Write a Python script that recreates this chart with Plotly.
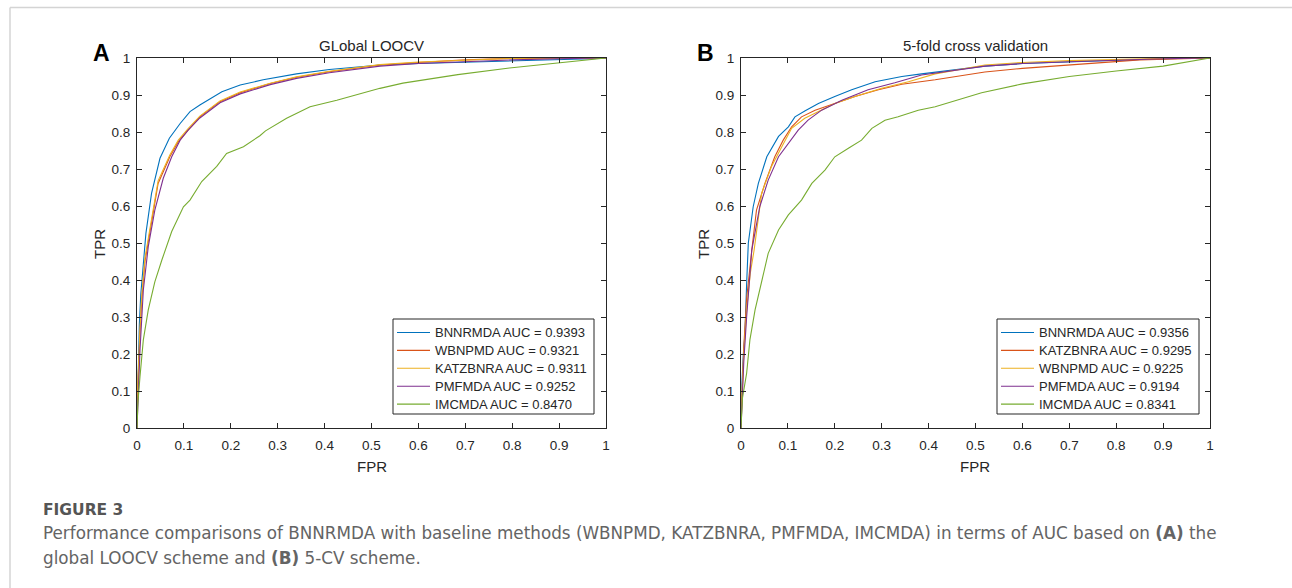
import plotly.graph_objects as go

W, H = 1292, 588

# ---------------- Data ----------------
# Panel A: Global LOOCV
A_BNNRMDA_FPR = [0, 0.002, 0.005, 0.008, 0.012, 0.019, 0.031, 0.049, 0.069, 0.092, 0.113, 0.134, 0.181, 0.22, 0.269, 0.34, 0.41, 0.518, 0.6, 0.758, 0.904, 0.97, 1]
A_BNNRMDA_TPR = [0, 0.15, 0.28, 0.36, 0.43, 0.526, 0.634, 0.729, 0.783, 0.823, 0.855, 0.873, 0.909, 0.927, 0.941, 0.957, 0.969, 0.981, 0.985, 0.990, 0.994, 0.998, 1]

A_WBNPMD_FPR = [0, 0.002, 0.0064, 0.01, 0.017, 0.021, 0.045, 0.07, 0.088, 0.109, 0.134, 0.177, 0.22, 0.284, 0.34, 0.41, 0.518, 0.6, 0.7, 0.8, 0.87, 1]
A_WBNPMD_TPR = [0, 0.12, 0.256, 0.346, 0.45, 0.481, 0.661, 0.733, 0.774, 0.805, 0.841, 0.882, 0.906, 0.931, 0.948, 0.963, 0.981, 0.988, 0.995, 0.999, 1, 1]

A_KATZBNRA_FPR = [0, 0.002, 0.0064, 0.01, 0.017, 0.021, 0.045, 0.07, 0.088, 0.109, 0.134, 0.177, 0.22, 0.284, 0.34, 0.41, 0.518, 0.6, 0.7, 0.8, 0.87, 1]
A_KATZBNRA_TPR = [0, 0.13, 0.265, 0.355, 0.46, 0.49, 0.668, 0.738, 0.778, 0.809, 0.843, 0.884, 0.908, 0.932, 0.949, 0.964, 0.982, 0.989, 0.995, 0.999, 1, 1]

A_PMFMDA_FPR = [0, 0.002, 0.0064, 0.0135, 0.021, 0.024, 0.038, 0.056, 0.074, 0.092, 0.109, 0.134, 0.177, 0.22, 0.284, 0.34, 0.41, 0.518, 0.6, 0.7, 0.8, 0.9, 0.97, 1]
A_PMFMDA_TPR = [0, 0.08, 0.21, 0.373, 0.47, 0.49, 0.589, 0.675, 0.733, 0.778, 0.805, 0.838, 0.879, 0.903, 0.928, 0.945, 0.96, 0.978, 0.985, 0.991, 0.995, 0.998, 1, 1]

A_IMCMDA_FPR = [0, 0.002, 0.0064, 0.0135, 0.024, 0.038, 0.053, 0.074, 0.099, 0.113, 0.138, 0.17, 0.191, 0.227, 0.262, 0.274, 0.319, 0.369, 0.426, 0.483, 0.518, 0.567, 0.611, 0.684, 0.794, 0.904, 1]
A_IMCMDA_TPR = [0, 0.07, 0.139, 0.238, 0.319, 0.395, 0.454, 0.531, 0.598, 0.616, 0.666, 0.707, 0.742, 0.76, 0.79, 0.803, 0.837, 0.868, 0.886, 0.906, 0.918, 0.932, 0.941, 0.955, 0.973, 0.988, 1]

# Panel B: 5-fold cross validation
B_BNNRMDA_FPR = [0, 0.002, 0.005, 0.0085, 0.012, 0.0156, 0.026, 0.037, 0.055, 0.08, 0.101, 0.115, 0.136, 0.165, 0.2, 0.236, 0.286, 0.343, 0.385, 0.52, 0.6, 0.7, 0.8, 0.9, 1]
B_BNNRMDA_TPR = [0, 0.12, 0.2, 0.256, 0.39, 0.5, 0.598, 0.661, 0.733, 0.788, 0.814, 0.841, 0.857, 0.877, 0.896, 0.914, 0.936, 0.95, 0.957, 0.978, 0.985, 0.99, 0.995, 0.998, 1]

B_KATZBNRA_FPR = [0, 0.002, 0.006, 0.012, 0.018, 0.023, 0.033, 0.051, 0.072, 0.09, 0.108, 0.129, 0.158, 0.2, 0.243, 0.293, 0.343, 0.414, 0.52, 0.6, 0.7, 0.8, 0.85, 1]
B_KATZBNRA_TPR = [0, 0.1, 0.22, 0.35, 0.43, 0.481, 0.589, 0.661, 0.733, 0.778, 0.814, 0.841, 0.859, 0.877, 0.896, 0.914, 0.929, 0.941, 0.962, 0.972, 0.982, 0.99, 0.995, 1]

B_WBNPMD_FPR = [0, 0.002, 0.006, 0.012, 0.02, 0.028, 0.044, 0.065, 0.087, 0.108, 0.136, 0.165, 0.2, 0.243, 0.3, 0.357, 0.414, 0.52, 0.6, 0.7, 0.8, 0.9, 1]
B_WBNPMD_TPR = [0, 0.1, 0.2, 0.32, 0.42, 0.481, 0.634, 0.707, 0.76, 0.81, 0.837, 0.855, 0.877, 0.896, 0.918, 0.936, 0.957, 0.981, 0.988, 0.993, 0.997, 0.999, 1]

B_PMFMDA_FPR = [0, 0.002, 0.006, 0.012, 0.018, 0.023, 0.04, 0.058, 0.08, 0.101, 0.122, 0.143, 0.172, 0.215, 0.271, 0.328, 0.385, 0.52, 0.6, 0.7, 0.8, 0.9, 1]
B_PMFMDA_TPR = [0, 0.08, 0.18, 0.3, 0.41, 0.481, 0.598, 0.67, 0.733, 0.769, 0.805, 0.832, 0.859, 0.886, 0.914, 0.933, 0.954, 0.978, 0.985, 0.99, 0.995, 0.998, 1]

B_IMCMDA_FPR = [0, 0.003, 0.012, 0.019, 0.03, 0.044, 0.058, 0.08, 0.101, 0.129, 0.151, 0.179, 0.2, 0.229, 0.257, 0.279, 0.307, 0.335, 0.378, 0.414, 0.471, 0.513, 0.6, 0.7, 0.8, 0.9, 1]
B_IMCMDA_TPR = [0, 0.08, 0.148, 0.238, 0.319, 0.4, 0.472, 0.535, 0.576, 0.616, 0.661, 0.697, 0.733, 0.756, 0.778, 0.81, 0.832, 0.841, 0.859, 0.868, 0.891, 0.906, 0.93, 0.95, 0.965, 0.978, 1]

A_LABELS = ["BNNRMDA AUC = 0.9393", "WBNPMD AUC = 0.9321", "KATZBNRA AUC = 0.9311",
            "PMFMDA AUC = 0.9252", "IMCMDA AUC = 0.8470"]
B_LABELS = ["BNNRMDA AUC = 0.9356", "KATZBNRA AUC = 0.9295", "WBNPMD AUC = 0.9225",
            "PMFMDA AUC = 0.9194", "IMCMDA AUC = 0.8341"]

TICK_VALS = [0, 0.1, 0.2, 0.3, 0.4, 0.5, 0.6, 0.7, 0.8, 0.9, 1]
TICK_TEXT = ["0", "0.1", "0.2", "0.3", "0.4", "0.5", "0.6", "0.7", "0.8", "0.9", "1"]

COLORS = ["#0072BD", "#D95319", "#EDB120", "#7E2F8E", "#77AC30"]

TITLES = ["GLobal LOOCV", "5-fold cross validation"]
PANEL_LETTERS = ["A", "B"]
CAPTION_HEAD = "FIGURE 3"
CAPTION_LINES = [
    "Performance comparisons of BNNRMDA with baseline methods (WBNPMD, KATZBNRA, PMFMDA, IMCMDA) in terms of AUC based on <b>(A)</b> the",
    "global LOOCV scheme and <b>(B)</b> 5-CV scheme.",
]

# ---------------- Figure ----------------
def px(x):
    return x / W


def py(y):
    return 1 - y / H


fig = go.Figure()

a_series = [(A_BNNRMDA_FPR, A_BNNRMDA_TPR), (A_WBNPMD_FPR, A_WBNPMD_TPR),
            (A_KATZBNRA_FPR, A_KATZBNRA_TPR), (A_PMFMDA_FPR, A_PMFMDA_TPR),
            (A_IMCMDA_FPR, A_IMCMDA_TPR)]
b_series = [(B_BNNRMDA_FPR, B_BNNRMDA_TPR), (B_KATZBNRA_FPR, B_KATZBNRA_TPR),
            (B_WBNPMD_FPR, B_WBNPMD_TPR), (B_PMFMDA_FPR, B_PMFMDA_TPR),
            (B_IMCMDA_FPR, B_IMCMDA_TPR)]

for (xs, ys), name, col in zip(a_series, A_LABELS, COLORS):
    fig.add_trace(go.Scatter(x=xs, y=ys, mode="lines", name=name, showlegend=False,
                             line=dict(color=col, width=1.1), xaxis="x", yaxis="y"))
for (xs, ys), name, col in zip(b_series, B_LABELS, COLORS):
    fig.add_trace(go.Scatter(x=xs, y=ys, mode="lines", name=name, showlegend=False,
                             line=dict(color=col, width=1.1), xaxis="x2", yaxis="y2"))

INK = "#262626"
FONT = "Liberation Sans"
tickfont = dict(family=FONT, size=13.5, color=INK)
axis_common = dict(range=[0, 1], tickvals=TICK_VALS, ticktext=TICK_TEXT,
                   ticks="inside", ticklen=5, tickwidth=1, tickcolor=INK,
                   showline=True, linecolor=INK, linewidth=1, mirror="ticks",
                   showgrid=False, zeroline=False, tickfont=tickfont, fixedrange=True,
                   automargin=False)

fig.update_layout(
    template="none",
    width=W, height=H, autosize=False,
    margin=dict(l=0, r=0, t=0, b=0, pad=0, autoexpand=False),
    paper_bgcolor="white", plot_bgcolor="white",
    xaxis=dict(domain=[px(137), px(606)], anchor="y", ticklabelstandoff=5, **axis_common),
    yaxis=dict(domain=[py(428), py(58)], anchor="x", ticklabelstandoff=3, **axis_common),
    xaxis2=dict(domain=[px(741), px(1210)], anchor="y2", ticklabelstandoff=5, **axis_common),
    yaxis2=dict(domain=[py(428), py(58)], anchor="x2", ticklabelstandoff=3, **axis_common),
    showlegend=False,
)

ann = []
shapes = []


def text(x, y, t, font, xanchor="center", yanchor="middle", angle=0):
    ann.append(dict(x=px(x), y=py(y), xref="paper", yref="paper", text=t,
                    showarrow=False, xanchor=xanchor, yanchor=yanchor,
                    textangle=angle, font=font))


txt_font = dict(family=FONT, size=15, color=INK)
lab_font = dict(family=FONT, size=15, color=INK)
centers = [371.5, 975.5]
lefts = [137, 741]
for i in range(2):
    text(centers[i], 46, TITLES[i], txt_font)
    text(centers[i], 466, "FPR", lab_font)
    text(lefts[i] - 38, 244, "TPR", lab_font, angle=-90)
    text(lefts[i] - 36, 53, "<b>%s</b>" % PANEL_LETTERS[i],
         dict(family=FONT, size=23, color="black"))

# legends (box, line samples, labels)
leg_boxes = [(393, 594), (997, 1199)]
leg_labels = [A_LABELS, B_LABELS]
for (x0, x1), labels in zip(leg_boxes, leg_labels):
    shapes.append(dict(type="rect", xref="paper", yref="paper",
                       x0=px(x0), x1=px(x1), y0=py(414), y1=py(319),
                       line=dict(color=INK, width=1), fillcolor="white", layer="above"))
    for j, (lab, col) in enumerate(zip(labels, COLORS)):
        yy = 332.5 + j * 17.9
        shapes.append(dict(type="line", xref="paper", yref="paper",
                           x0=px(x0 + 4), x1=px(x0 + 37), y0=py(yy), y1=py(yy),
                           line=dict(color=col, width=1.1), layer="above"))
        text(x0 + 40, yy, lab, dict(family=FONT, size=13, color=INK), xanchor="left")

cap_font = dict(family="DejaVu Sans", size=16.8, color="#646464")
text(41, 510, "<b>%s</b>" % CAPTION_HEAD, dict(family="DejaVu Sans", size=15.5, color="#555555"),
     xanchor="left")
text(41, 533, CAPTION_LINES[0], cap_font, xanchor="left")
text(41, 558, CAPTION_LINES[1], cap_font, xanchor="left")

# page frame
shapes.append(dict(type="line", xref="paper", yref="paper", x0=px(10), x1=1, y0=py(7.5), y1=py(7.5),
                   line=dict(color="#d4d4d4", width=1.5)))
shapes.append(dict(type="line", xref="paper", yref="paper", x0=px(10), x1=px(10), y0=py(7.5), y1=0,
                   line=dict(color="#d4d4d4", width=1.5)))

fig.update_layout(annotations=ann, shapes=shapes)

fig.write_html("out.html", config={"displayModeBar": False},
               post_script="document.body.style.margin='0';document.body.style.overflow='hidden';")
